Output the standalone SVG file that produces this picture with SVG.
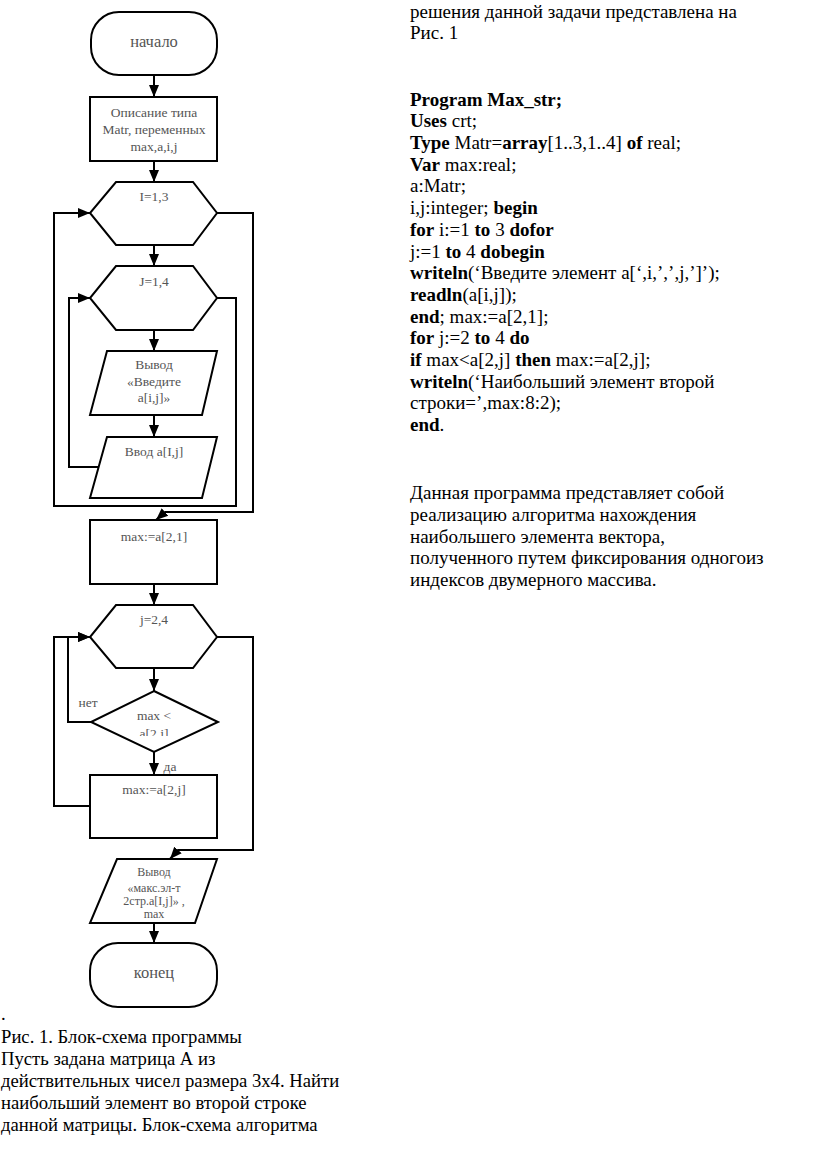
<svg xmlns="http://www.w3.org/2000/svg" width="816" height="1160" viewBox="0 0 816 1160">
<defs>
<style>
.s{fill:none;stroke:#000;stroke-width:2}
.n{fill:#fff;stroke:#000;stroke-width:2}
.t{font-family:"Liberation Serif","DejaVu Serif",serif;font-size:13.5px;fill:#555;text-anchor:middle}
.tl{font-family:"Liberation Serif","DejaVu Serif",serif;font-size:16.5px;fill:#555;text-anchor:middle}
.ts{font-family:"Liberation Serif","DejaVu Serif",serif;font-size:12px;fill:#555;text-anchor:middle}
.b{font-family:"Liberation Serif","DejaVu Serif",serif;font-size:18.67px;fill:#000}
.r{font-size:19px}
.k{font-weight:bold}
</style>
<marker id="ah" markerUnits="userSpaceOnUse" markerWidth="12" markerHeight="12" viewBox="0 0 12 10" refX="12" refY="5" orient="auto">
<path d="M0,0 L12,5 L0,10 z" fill="#000"/>
</marker>
<clipPath id="dc"><rect x="90" y="700" width="130" height="36"/></clipPath>
</defs>
<rect width="816" height="1160" fill="#fff"/>

<g id="connectors">
<line class="s" x1="154" y1="75" x2="154" y2="97" marker-end="url(#ah)"/>
<line class="s" x1="154" y1="161" x2="154" y2="182" marker-end="url(#ah)"/>
<line class="s" x1="154" y1="245" x2="154" y2="266" marker-end="url(#ah)"/>
<line class="s" x1="154" y1="330" x2="154" y2="351" marker-end="url(#ah)"/>
<line class="s" x1="154" y1="415" x2="154" y2="437" marker-end="url(#ah)"/>
<polyline class="s" points="101,467 69,467 69,298 90,298" marker-end="url(#ah)"/>
<polyline class="s" points="217,298 236,298 236,506 54,506 54,213 90,213" marker-end="url(#ah)"/>
<polyline class="s" points="217,213 253,213 253,512 165,512 156,520" marker-end="url(#ah)"/>
<line class="s" x1="154" y1="584" x2="154" y2="605" marker-end="url(#ah)"/>
<line class="s" x1="154" y1="668" x2="154" y2="691" marker-end="url(#ah)"/>
<line class="s" x1="154" y1="752" x2="154" y2="775" marker-end="url(#ah)"/>
<polyline class="s" points="91,722 68,722 68,637 90,637" marker-end="url(#ah)"/>
<polyline class="s" points="90,806 54,806 54,637 90,637" marker-end="url(#ah)"/>
<polyline class="s" points="217,637 253,637 253,850 178,850 170,859" marker-end="url(#ah)"/>
<line class="s" x1="154" y1="923" x2="154" y2="943" marker-end="url(#ah)"/>
<text class="t" x="88" y="707">нет</text>
<text class="t" x="170" y="771">да</text>
</g>

<g id="start">
<rect class="n" x="91" y="12" width="126" height="63" rx="28"/>
<text class="tl" x="154" y="47">начало</text>
</g>
<g id="decl">
<rect class="n" x="90" y="97" width="127" height="64"/>
<text class="t" x="154" y="117">Описание типа</text>
<text class="t" x="154" y="134">Matr, переменных</text>
<text class="t" x="154" y="151">max,a,i,j</text>
</g>
<g id="loopI">
<polygon class="n" points="116,182 193,182 217,213 193,245 116,245 90,213"/>
<text class="t" x="154" y="201">I=1,3</text>
</g>
<g id="loopJ">
<polygon class="n" points="116,266 193,266 217,298 193,330 116,330 90,298"/>
<text class="t" x="154" y="286">J=1,4</text>
</g>
<g id="out1">
<polygon class="n" points="107,351 217,351 202,415 90,415"/>
<text class="t" x="154" y="369">Вывод</text>
<text class="t" x="154" y="386">«Введите</text>
<text class="t" x="154" y="402">a[i,j]»</text>
</g>
<g id="in1">
<polygon class="n" points="107,437 217,437 202,498 90,498"/>
<text class="t" x="154" y="456">Ввод a[I,j]</text>
</g>
<g id="assign1">
<rect class="n" x="90" y="520" width="127" height="64"/>
<text class="t" x="154" y="541">max:=a[2,1]</text>
</g>
<g id="loopj2">
<polygon class="n" points="116,605 193,605 217,637 193,668 116,668 90,637"/>
<text class="t" x="154" y="624">j=2,4</text>
</g>
<g id="cond">
<polygon class="n" points="154,691 218,722 154,752 91,722"/>
<text class="t" x="154" y="720">max &lt;</text>
<text class="t" x="154" y="738" clip-path="url(#dc)">a[2,j]</text>
</g>
<g id="assign2">
<rect class="n" x="90" y="775" width="127" height="63"/>
<text class="t" x="154" y="794">max:=a[2,j]</text>
</g>
<g id="out2">
<polygon class="n" points="117,859 217,859 195,923 90,923"/>
<text class="ts" x="154" y="876">Вывод</text>
<text class="ts" x="154" y="892">«макс.эл-т</text>
<text class="ts" x="154" y="905">2стр.a[I,j]» ,</text>
<text class="ts" x="154" y="918">max</text>
</g>
<g id="end">
<rect class="n" x="90" y="943" width="127" height="64" rx="28"/>
<text class="tl" x="154" y="978">конец</text>
</g>

<g id="righttext" class="b r">
<text x="410" y="18">решения данной задачи представлена на</text>
<text x="410" y="39">Рис. 1</text>
<text x="410" y="106" class="k">Program Max_str;</text>
<text x="410" y="127"><tspan class="k">Uses</tspan> crt;</text>
<text x="410" y="149"><tspan class="k">Type</tspan> Matr=<tspan class="k">array</tspan>[1..3,1..4] <tspan class="k">of</tspan> real;</text>
<text x="410" y="171"><tspan class="k">Var</tspan> max:real;</text>
<text x="410" y="192">a:Matr;</text>
<text x="410" y="214">i,j:integer; <tspan class="k">begin</tspan></text>
<text x="410" y="236"><tspan class="k">for</tspan> i:=1 <tspan class="k">to</tspan> 3 <tspan class="k">dofor</tspan></text>
<text x="410" y="258">j:=1 <tspan class="k">to</tspan> 4 <tspan class="k">dobegin</tspan></text>
<text x="410" y="279"><tspan class="k">writeln</tspan>(‘Введите элемент a[‘,i,’,’,j,’]’);</text>
<text x="410" y="301"><tspan class="k">readln</tspan>(a[i,j]);</text>
<text x="410" y="323"><tspan class="k">end</tspan>; max:=a[2,1];</text>
<text x="410" y="344"><tspan class="k">for</tspan> j:=2 <tspan class="k">to</tspan> 4 <tspan class="k">do</tspan></text>
<text x="410" y="366"><tspan class="k">if</tspan> max&lt;a[2,j] <tspan class="k">then</tspan> max:=a[2,j];</text>
<text x="410" y="388"><tspan class="k">writeln</tspan>(‘Наибольший элемент второй</text>
<text x="410" y="409">строки=’,max:8:2);</text>
<text x="410" y="431"><tspan class="k">end</tspan>.</text>
<text x="410" y="499">Данная программа представляет собой</text>
<text x="410" y="521">реализацию алгоритма нахождения</text>
<text x="410" y="543">наибольшего элемента вектора,</text>
<text x="410" y="564">полученного путем фиксирования одногоиз</text>
<text x="410" y="586">индексов двумерного массива.</text>
</g>
<g id="bottomtext" class="b">
<text x="1" y="1020">.</text>
<text x="1" y="1043">Рис. 1. Блок-схема программы</text>
<text x="1" y="1065">Пусть задана матрица А из</text>
<text x="1" y="1087">действительных чисел размера 3х4. Найти</text>
<text x="1" y="1109">наибольший элемент во второй строке</text>
<text x="1" y="1131">данной матрицы. Блок-схема алгоритма</text>
</g>
</svg>
